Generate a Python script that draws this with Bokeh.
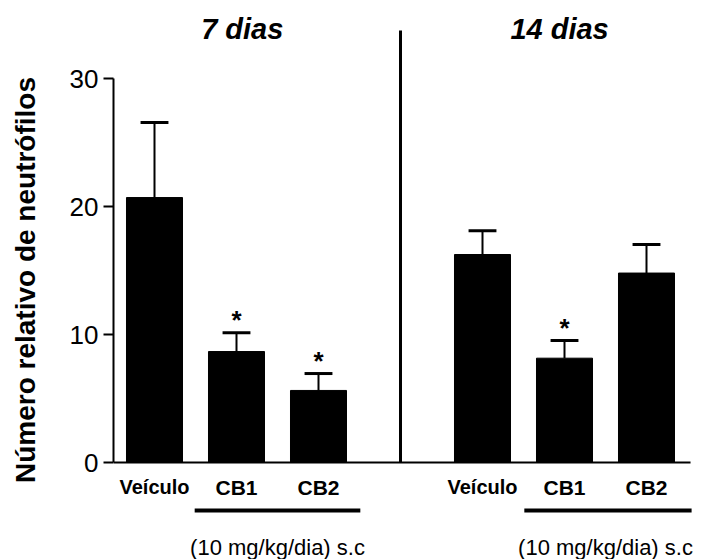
from bokeh.plotting import figure
from bokeh.models import ColumnDataSource, Range1d, FixedTicker
from bokeh.core.properties import value
from bokeh.embed import file_html
from bokeh.resources import INLINE

# ---- data ----
groups = ["7 dias", "14 dias"]
categories = ["Veículo", "CB1", "CB2", "Veículo", "CB1", "CB2"]
positions = [1, 2, 3, 5, 6, 7]
means = [20.7, 8.67, 5.63, 16.25, 8.15, 14.8]
sems = [5.86, 1.46, 1.32, 1.85, 1.38, 2.23]
significant = [False, True, True, False, True, False]
dose_label = "(10 mg/kg/dia) s.c"
y_ticks = [0, 10, 20, 30]
y_label = "Número relativo de neutrófilos"

FONT = "Liberation Sans"

tops = [m + s for m, s in zip(means, sems)]
src = ColumnDataSource(dict(x=positions, mean=means, top=tops,
                            cat=categories,
                            size=["20px" if c == "Veículo" else "21px" for c in categories]))

p = figure(width=705, height=559, output_backend="svg", toolbar_location=None,
           x_range=Range1d(0.5, 7.7195), y_range=Range1d(-7.578, 36.094),
           x_axis_location=None, min_border_left=113, min_border_right=0,
           min_border_top=0, min_border_bottom=0, outline_line_color=None,
           background_fill_color="white", border_fill_color="white")
p.grid.visible = False

ax = p.yaxis[0]
ax.bounds = (0, 30)
ax.ticker = FixedTicker(ticks=y_ticks)
ax.minor_tick_line_color = None
ax.major_tick_in = 0
ax.major_tick_out = 10
ax.axis_line_width = 2
ax.major_tick_line_width = 2
ax.axis_line_color = "black"
ax.major_tick_line_color = "black"
ax.major_label_text_font = FONT
ax.major_label_text_font_size = "26px"
ax.major_label_text_color = "black"
ax.major_label_standoff = 5
ax.axis_label = y_label
ax.axis_label_text_font = FONT
ax.axis_label_text_font_style = "bold"
ax.axis_label_text_font_size = "28px"
ax.axis_label_text_color = "black"
ax.axis_label_standoff = 26

# bars
p.vbar(x="x", top="mean", bottom=0, width=0.683, source=src,
       fill_color="black", line_color="black")
# error bars (upper only)
p.segment(x0="x", y0="mean", x1="x", y1="top", source=src, line_color="black", line_width=2)
cap_w = 0.17
p.segment(x0=[x - cap_w for x in positions], y0=tops, x1=[x + cap_w for x in positions], y1=tops,
          line_color="black", line_width=3)

# significance stars
sx = [x for x, s in zip(positions, significant) if s]
sy = [t for t, s in zip(tops, significant) if s]
p.text(x=sx, y=sy, text=["*"] * len(sx), text_font=value(FONT), text_font_size="26px",
       text_font_style="bold", text_align="center", text_baseline="middle",
       text_color="black", y_offset=-13)

# baseline
p.segment(x0=[0.5], y0=[0], x1=[7.537], y1=[0], line_color="black", line_width=2)
# divider
p.segment(x0=[4], y0=[0], x1=[4], y1=[33.75], line_color="black", line_width=3)

# category labels
p.text(x="x", y=-1.95, text="cat", source=src, text_font=value(FONT),
       text_font_size="size", text_font_style="bold", text_align="center",
       text_baseline="middle", text_color="black")

# underline for treatment groups
p.segment(x0=[1.49, 5.51], y0=[-3.75, -3.75], x1=[3.51, 7.55], y1=[-3.75, -3.75],
          line_color="black", line_width=4)
p.text(x=[2.5, 6.5], y=[-6.64, -6.64], text=[dose_label] * 2, text_font=value(FONT),
       text_font_size="22px", text_align="center", text_baseline="middle", text_color="black")

# group titles
p.text(x=[2.07, 5.94], y=[33.83, 33.83], text=groups, text_font=value(FONT),
       text_font_size="29px", text_font_style="bold italic", text_align="center",
       text_baseline="middle", text_color="black")

open("out.html", "w").write(file_html(p, INLINE))
